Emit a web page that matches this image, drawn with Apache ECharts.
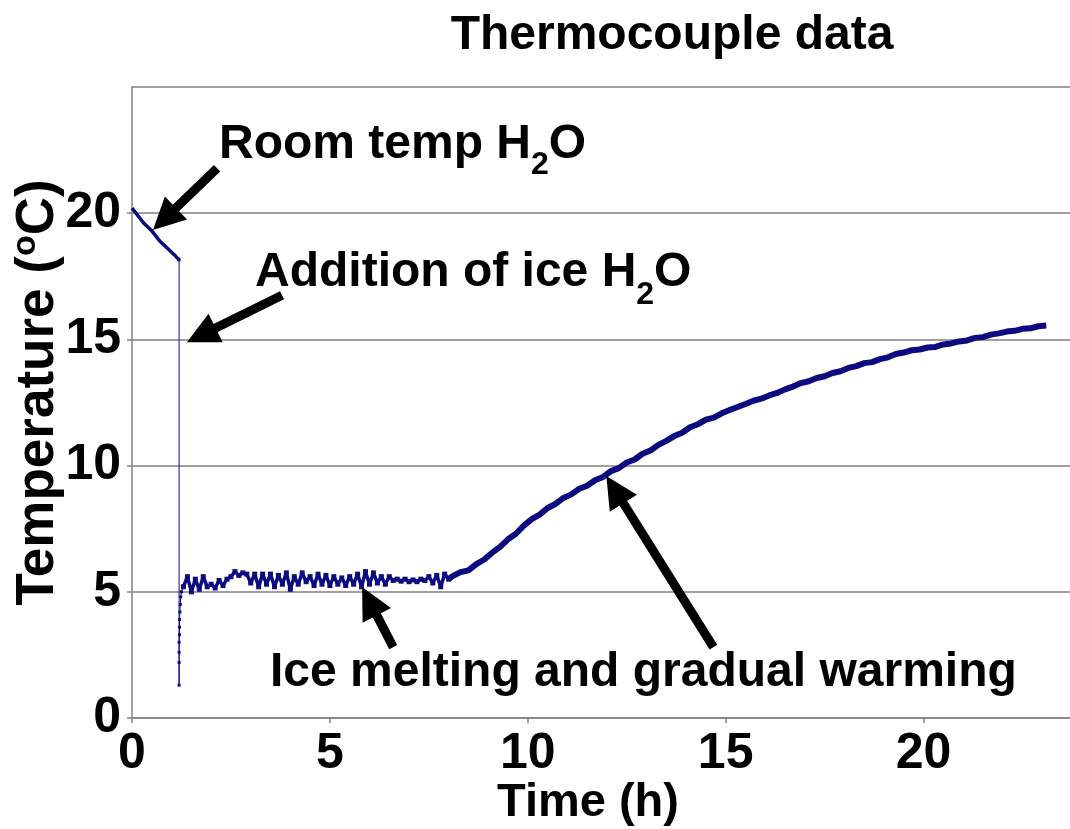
<!DOCTYPE html>
<html>
<head>
<meta charset="utf-8">
<title>Thermocouple data</title>
<script src="https://cdn.jsdelivr.net/npm/echarts@6/dist/echarts.min.js"></script>
<style>
  html, body { margin: 0; padding: 0; background: #fff; }
  #chart { width: 1070px; height: 829px; }
</style>
</head>
<body>
<div id="chart"></div>
<script>
// Room-temperature water cooling before the ice is added (h, °C)
const coolTime = [0, 0.1, 0.2, 0.3, 0.4, 0.5, 0.6, 0.7, 0.8, 0.9, 1.0, 1.1, 1.19];
const coolTemp = [20.2, 20.0, 19.8, 19.6, 19.45, 19.3, 19.1, 18.9, 18.75, 18.6, 18.45, 18.3, 18.15];

// Sudden drop when the ice water is added, then recovery
const dropTime = [1.19, 1.19, 1.19, 1.19, 1.19, 1.2, 1.2, 1.2, 1.21, 1.22, 1.23, 1.25, 1.3];
const dropTemp = [18.15, 1.3, 2.2, 2.6, 3.0, 3.3, 3.6, 3.9, 4.2, 4.5, 4.8, 5.0, 5.2];

// Plateau while the ice melts
const meltTime = [1.3, 1.4, 1.5, 1.6, 1.7, 1.8, 1.9, 2.0, 2.1, 2.2, 2.3, 2.4, 2.5, 2.6, 2.7, 2.8, 2.9,
  3.0, 3.1, 3.2, 3.3, 3.4, 3.5, 3.6, 3.7, 3.8, 3.9, 4.0, 4.1, 4.2, 4.3, 4.4, 4.5, 4.6, 4.7, 4.8, 4.9,
  5.0, 5.1, 5.2, 5.3, 5.4, 5.5, 5.6, 5.7, 5.8, 5.9, 6.0, 6.1, 6.2, 6.3, 6.4, 6.5, 6.6, 6.7, 6.8, 6.9,
  7.0, 7.1, 7.2, 7.3, 7.4, 7.5, 7.6, 7.7, 7.8, 7.9, 8.0];
const meltTemp = [5.2, 5.6, 5.0, 5.5, 5.1, 5.6, 5.2, 5.3, 5.15, 5.45, 5.25, 5.5, 5.6, 5.8, 5.65, 5.75, 5.7,
  5.35, 5.7, 5.2, 5.7, 5.3, 5.7, 5.2, 5.65, 5.3, 5.75, 5.1, 5.6, 5.3, 5.75, 5.4, 5.6, 5.25, 5.7, 5.3, 5.65,
  5.25, 5.6, 5.3, 5.55, 5.25, 5.6, 5.3, 5.7, 5.2, 5.8, 5.3, 5.75, 5.35, 5.6, 5.3, 5.6, 5.45, 5.5, 5.42, 5.5,
  5.4, 5.47, 5.4, 5.5, 5.45, 5.6, 5.35, 5.65, 5.2, 5.7, 5.5];

// Gradual warming once the ice has melted
const warmTime = [8.0, 8.1, 8.3, 8.5, 8.7, 8.9, 9.1, 9.3, 9.5, 9.7, 9.9, 10.1, 10.3, 10.5, 10.7, 10.9,
  11.1, 11.3, 11.5, 11.7, 11.9, 12.1, 12.3, 12.5, 12.7, 12.9, 13.1, 13.3, 13.5, 13.7, 13.9,
  14.1, 14.3, 14.5, 14.7, 14.9, 15.1, 15.3, 15.5, 15.7, 15.9, 16.1, 16.3, 16.5, 16.7, 16.9,
  17.1, 17.3, 17.5, 17.7, 17.9, 18.1, 18.3, 18.5, 18.7, 18.9, 19.1, 19.3, 19.5, 19.7, 19.9,
  20.1, 20.3, 20.5, 20.7, 20.9, 21.1, 21.3, 21.5, 21.7, 21.9, 22.1, 22.3, 22.5, 22.7, 22.9, 23.1];
const warmTemp = [5.5, 5.62, 5.78, 5.85, 6.1, 6.28, 6.55, 6.78, 7.08, 7.3, 7.62, 7.88, 8.06, 8.32, 8.48, 8.72,
  8.86, 9.08, 9.2, 9.42, 9.55, 9.78, 9.9, 10.12, 10.24, 10.47, 10.6, 10.82, 10.98, 11.17, 11.3,
  11.52, 11.64, 11.82, 11.9, 12.07, 12.2, 12.32, 12.44, 12.57, 12.65, 12.78, 12.88, 13.02, 13.13, 13.27,
  13.34, 13.47, 13.54, 13.67, 13.74, 13.87, 13.94, 14.06, 14.1, 14.22, 14.29, 14.42, 14.48, 14.57, 14.6,
  14.68, 14.7, 14.8, 14.84, 14.92, 14.96, 15.06, 15.09, 15.19, 15.24, 15.31, 15.34, 15.42, 15.44, 15.52, 15.55];

// Annotation arrows: [tailTime, tailTemp, headTime, headTemp]
const arrows = [
  [2.15, 21.78, 0.82, 19.77],
  [3.79, 16.75, 1.75, 15.17],
  [6.60, 2.81, 6.00, 4.63],
  [14.69, 2.81, 12.20, 9.05]
];

const xTicks = { min: 0, max: 23.7, interval: 5 };
const yTicks = { min: 0, max: 25, interval: 5 };

const FONT = '"Liberation Sans", Arial, Helvetica, sans-serif';
const LINE = '#0c0c80';
const GRID = '#808080';

const zip = (xs, ys) => xs.map((x, i) => [x, ys[i]]);

// Text with a chemical subscript, laid out from measured glyph widths
const measureCtx = document.createElement('canvas').getContext('2d');
function measure(text, size) {
  measureCtx.font = 'bold ' + size + 'px ' + FONT;
  return measureCtx.measureText(text).width;
}
function subscriptText(x, y, head, sub, tail, size, subSize, drop) {
  const w1 = measure(head, size);
  const w2 = measure(sub, subSize);
  const base = { fill: '#000', verticalAlign: 'middle', align: 'left' };
  return [
    { type: 'text', x: x, y: y, z: 100, style: Object.assign({ text: head, font: 'bold ' + size + 'px ' + FONT }, base) },
    { type: 'text', x: x + w1, y: y + drop, z: 100, style: Object.assign({ text: sub, font: 'bold ' + subSize + 'px ' + FONT }, base) },
    { type: 'text', x: x + w1 + w2, y: y, z: 100, style: Object.assign({ text: tail, font: 'bold ' + size + 'px ' + FONT }, base) }
  ];
}

const chart = echarts.init(document.getElementById('chart'), null, { renderer: 'canvas' });

const option = {
  animation: false,
  backgroundColor: '#fff',
  title: {
    text: 'Thermocouple data',
    left: 667,
    top: 7,
    textAlign: 'center',
    textStyle: { fontFamily: FONT, fontWeight: 'bold', fontSize: 48, color: '#000' }
  },
  grid: { left: 132, right: 0, top: 87, bottom: 111, containLabel: false, outerBoundsMode: 'none' },
  xAxis: {
    type: 'value',
    min: xTicks.min, max: xTicks.max, interval: xTicks.interval,
    name: 'Time (h)',
    nameLocation: 'middle',
    nameGap: 62,
    nameMoveOverlap: false,
    nameTextStyle: { fontFamily: FONT, fontWeight: 'bold', fontSize: 47, color: '#000', padding: [0, 26, 0, 0] },
    axisLine: { show: true, onZero: false, lineStyle: { color: GRID, width: 1.5 } },
    axisTick: { show: true, inside: false, length: 5, lineStyle: { color: GRID, width: 1.5 } },
    axisLabel: { showMaxLabel: false, margin: 11, fontFamily: FONT, fontWeight: 'bold', fontSize: 50, color: '#000' },
    splitLine: { show: false }
  },
  yAxis: {
    type: 'value',
    min: yTicks.min, max: yTicks.max, interval: yTicks.interval,
    name: '{a|Temperature (}{b|o}{a|C)}',
    nameLocation: 'middle',
    nameGap: 65,
    nameMoveOverlap: false,
    nameTextStyle: {
      fontFamily: FONT, fontWeight: 'bold', fontSize: 53, color: '#000',
      padding: [0, 0, 0, 20],
      rich: {
        a: { fontFamily: FONT, fontWeight: 'bold', fontSize: 53, lineHeight: 58, color: '#000' },
        b: { fontFamily: FONT, fontWeight: 'bold', fontSize: 34, lineHeight: 34, verticalAlign: 'top', color: '#000' }
      }
    },
    axisLine: { show: true, lineStyle: { color: GRID, width: 1.5 } },
    axisTick: { show: true, inside: false, length: 5, lineStyle: { color: GRID, width: 1.5 } },
    axisLabel: { showMaxLabel: false, margin: 11, fontFamily: FONT, fontWeight: 'bold', fontSize: 50, color: '#000' },
    splitLine: { show: true, lineStyle: { color: GRID, width: 1.5 } }
  },
  series: [
    {
      name: 'cooling', type: 'line', data: zip(coolTime, coolTemp),
      symbol: 'none', lineStyle: { color: LINE, width: 3.5 }, z: 3
    },
    {
      name: 'ice added', type: 'line', data: zip(dropTime, dropTemp),
      symbol: 'rect', symbolSize: 3, showAllSymbol: true,
      itemStyle: { color: LINE }, lineStyle: { color: LINE, width: 1 }, z: 3
    },
    {
      name: 'melting', type: 'line', data: zip(meltTime, meltTemp),
      symbol: 'rect', symbolSize: 5, showAllSymbol: true,
      itemStyle: { color: LINE }, lineStyle: { color: LINE, width: 3.5 }, z: 3
    },
    {
      name: 'warming', type: 'line', data: zip(warmTime, warmTemp),
      symbol: 'none', lineStyle: { color: LINE, width: 6 }, z: 3,
      markLine: {
        silent: true,
        animation: false,
        z: 10,
        label: { show: false },
        lineStyle: { color: '#000', width: 9, type: 'solid' },
        emphasis: { disabled: true },
        data: arrows.map(a => [
          { coord: [a[0], a[1]], symbol: 'none' },
          { coord: [a[2], a[3]], symbol: 'triangle', symbolSize: [32, 32] }
        ])
      }
    }
  ],
  graphic: [].concat(
    subscriptText(219, 145, 'Room temp H', '2', 'O', 48, 32, 20),
    subscriptText(255, 273, 'Addition of ice H', '2', 'O', 48, 32, 22),
    [{
      type: 'text', x: 270, y: 673, z: 100,
      style: { text: 'Ice melting and gradual warming', font: 'bold 48px ' + FONT, fill: '#000', verticalAlign: 'middle', align: 'left' }
    }]
  )
};

chart.setOption(option);
</script>
</body>
</html>
